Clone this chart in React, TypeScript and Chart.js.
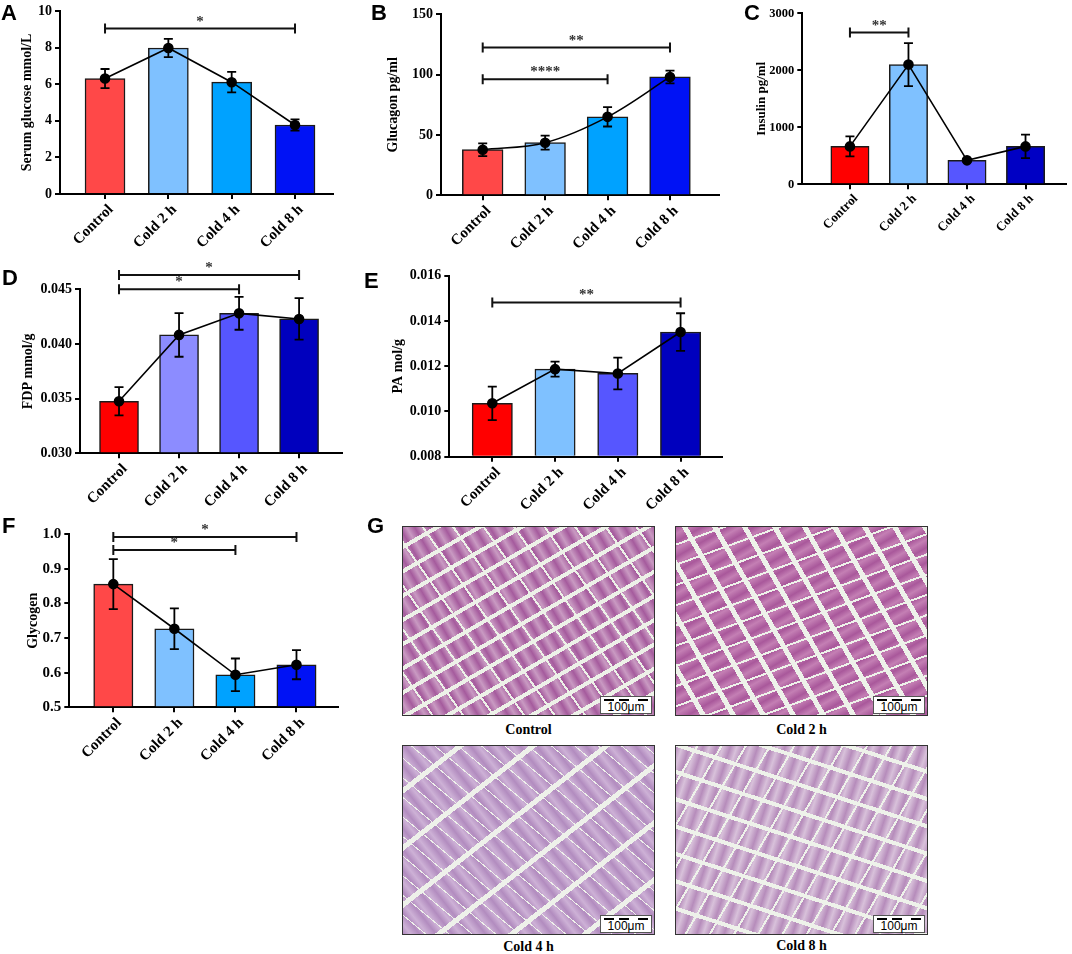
import React, { useEffect, useRef } from 'react';
import { Chart, registerables } from 'chart.js';

Chart.register(...registerables);

// ---------- data ----------
const categories = ['Control', 'Cold 2 h', 'Cold 4 h', 'Cold 8 h'];

const glucoseMean = [6.31, 7.98, 6.11, 3.77];
const glucoseErr = [0.52, 0.5, 0.56, 0.31];
const glucoseTicks = [0, 2, 4, 6, 8, 10];
const glucoseSig = [{ from: 0, to: 3, y: 9.04, label: '*' }];

const glucagonMean = [37.8, 43.6, 65.0, 98.1];
const glucagonErr = [5.3, 5.8, 8.0, 5.3];
const glucagonTicks = [0, 50, 100, 150];
const glucagonSig = [
  { from: 0, to: 3, y: 122.4, label: '**' },
  { from: 0, to: 2, y: 96.1, label: '****' },
];

const insulinMean = [665, 2100, 420, 665];
const insulinErr = [175, 377, 25, 207];
const insulinTicks = [0, 1000, 2000, 3000];
const insulinSig = [{ from: 0, to: 1, y: 2661, label: '**' }];

const fdpMean = [0.03476, 0.04083, 0.0428, 0.04229];
const fdpErr = [0.0013, 0.002, 0.0015, 0.0019];
const fdpTicks = [0.03, 0.035, 0.04, 0.045];
const fdpSig = [
  { from: 0, to: 3, y: 0.04631, label: '*' },
  { from: 0, to: 2, y: 0.045, label: '*' },
];

const paMean = [0.01036, 0.01187, 0.01168, 0.01351];
const paErr = [0.00074, 0.00033, 0.0007, 0.00083];
const paTicks = [0.008, 0.01, 0.012, 0.014, 0.016];
const paSig = [{ from: 0, to: 3, y: 0.01482, label: '**' }];

const glycogenMean = [0.856, 0.727, 0.594, 0.623];
const glycogenErr = [0.072, 0.059, 0.047, 0.042];
const glycogenTicks = [0.5, 0.6, 0.7, 0.8, 0.9, 1.0];
const glycogenSig = [
  { from: 0, to: 3, y: 0.9923, label: '*' },
  { from: 0, to: 2, y: 0.9547, label: '*' },
];

const colorsA = ['#FF4848', '#7FC1FF', '#00A2FF', '#0012F5'];
const colorsC = ['#FF0000', '#7FC1FF', '#5656FF', '#0000C4'];
const colorsD = ['#FF0000', '#8C8CFF', '#5656FF', '#0000BE'];
const colorsE = ['#FF0000', '#7FC1FF', '#5656FF', '#0000BE'];

const SERIF = "'Liberation Serif', 'Times New Roman', serif";
const SANS = "'Liberation Sans', Arial, sans-serif";

type Sig = { from: number; to: number; y: number; label: string };
type Panel = {
  key: string;
  canvas: { x: number; y: number; w: number; h: number };
  area: { l: number; t: number; r: number; b: number };
  titleX: number;
  title: string;
  titleSize: number;
  tickSize: number;
  xLabelSize: number;
  xMin: number;
  xMax: number;
  yMin: number;
  yMax: number;
  yTicks: number[];
  decimals: number;
  barWidth: number;
  tension: number;
  mean: number[];
  err: number[];
  sig: Sig[];
  colors: string[];
};

const panels: Panel[] = [
  {
    key: 'A', canvas: { x: 0, y: 0, w: 350, h: 262 }, area: { l: 60, t: 11, r: 333, b: 194 },
    titleX: 27, title: 'Serum glucose mmol/L', titleSize: 14, tickSize: 14, xLabelSize: 15,
    xMin: -0.711, xMax: 3.6, yMin: 0, yMax: 10, yTicks: glucoseTicks, decimals: 0,
    barWidth: 40, tension: 0, mean: glucoseMean, err: glucoseErr, sig: glucoseSig, colors: colorsA,
  },
  {
    key: 'B', canvas: { x: 360, y: 0, w: 375, h: 262 }, area: { l: 441, t: 14.3, r: 719, b: 195.3 },
    titleX: 393.3, title: 'Glucagon pg/ml', titleSize: 14, tickSize: 14, xLabelSize: 15,
    xMin: -0.668, xMax: 3.785, yMin: 0, yMax: 150, yTicks: glucagonTicks, decimals: 0,
    barWidth: 40.7, tension: 0.35, mean: glucagonMean, err: glucagonErr, sig: glucagonSig, colors: colorsA,
  },
  {
    key: 'C', canvas: { x: 735, y: 0, w: 337, h: 262 }, area: { l: 802.3, t: 13.3, r: 1070, b: 184.3 },
    titleX: 761.7, title: 'Insulin pg/ml', titleSize: 13, tickSize: 12.5, xLabelSize: 13,
    xMin: -0.814, xMax: 3.69, yMin: 0, yMax: 3000, yTicks: insulinTicks, decimals: 0,
    barWidth: 38.3, tension: 0, mean: insulinMean, err: insulinErr, sig: insulinSig, colors: colorsC,
  },
  {
    key: 'D', canvas: { x: 0, y: 262, w: 355, h: 253 }, area: { l: 80, t: 289.3, r: 341.7, b: 453.3 },
    titleX: 28, title: 'FDP mmol/g', titleSize: 14, tickSize: 14, xLabelSize: 15,
    xMin: -0.65, xMax: 3.71, yMin: 0.03, yMax: 0.045, yTicks: fdpTicks, decimals: 3,
    barWidth: 39, tension: 0, mean: fdpMean, err: fdpErr, sig: fdpSig, colors: colorsD,
  },
  {
    key: 'E', canvas: { x: 365, y: 262, w: 375, h: 253 }, area: { l: 449.3, t: 275.7, r: 722, b: 456.7 },
    titleX: 398, title: 'PA mol/g', titleSize: 14, tickSize: 14, xLabelSize: 15,
    xMin: -0.685, xMax: 3.66, yMin: 0.008, yMax: 0.016, yTicks: paTicks, decimals: 3,
    barWidth: 40.3, tension: 0, mean: paMean, err: paErr, sig: paSig, colors: colorsE,
  },
  {
    key: 'F', canvas: { x: 0, y: 515, w: 355, h: 245 }, area: { l: 69.3, t: 534.3, r: 338, b: 707.3 },
    titleX: 33.3, title: 'Glycogen', titleSize: 14, tickSize: 15, xLabelSize: 15,
    xMin: -0.721, xMax: 3.68, yMin: 0.5, yMax: 1.0, yTicks: glycogenTicks, decimals: 1,
    barWidth: 39.3, tension: 0, mean: glycogenMean, err: glycogenErr, sig: glycogenSig, colors: colorsA,
  },
];

// ---------- plugins ----------
function makeErrorBarPlugin(p: Panel) {
  return {
    id: 'errorBars' + p.key,
    afterDatasetDraw(chart: any, args: any) {
      if (args.index !== 1) return;
      const ctx = chart.ctx;
      const ys = chart.scales.y;
      const xs = chart.scales.x;
      ctx.save();
      ctx.strokeStyle = '#000';
      ctx.lineWidth = 1.8;
      p.mean.forEach((m, i) => {
        const x = xs.getPixelForValue(i);
        const t = ys.getPixelForValue(m + p.err[i]);
        const b = ys.getPixelForValue(m - p.err[i]);
        ctx.beginPath();
        ctx.moveTo(x, t); ctx.lineTo(x, b);
        ctx.moveTo(x - 4.5, t); ctx.lineTo(x + 4.5, t);
        ctx.moveTo(x - 4.5, b); ctx.lineTo(x + 4.5, b);
        ctx.stroke();
      });
      ctx.restore();
    },
  };
}

function makeSigPlugin(p: Panel) {
  return {
    id: 'sig' + p.key,
    afterDraw(chart: any) {
      const ctx = chart.ctx;
      const ys = chart.scales.y;
      const xs = chart.scales.x;
      ctx.save();
      p.sig.forEach((s) => {
        const x1 = xs.getPixelForValue(s.from);
        const x2 = xs.getPixelForValue(s.to);
        const y = ys.getPixelForValue(s.y);
        ctx.strokeStyle = '#111';
        ctx.lineWidth = 2;
        ctx.beginPath();
        ctx.moveTo(x1, y); ctx.lineTo(x2, y);
        ctx.moveTo(x1, y - 5); ctx.lineTo(x1, y + 5);
        ctx.moveTo(x2, y - 5); ctx.lineTo(x2, y + 5);
        ctx.stroke();
        ctx.fillStyle = '#333';
        ctx.font = `bold 15px ${SERIF}`;
        ctx.textAlign = 'center';
        ctx.textBaseline = 'alphabetic';
        ctx.fillText(s.label, (x1 + x2) / 2, y - 3);
      });
      ctx.restore();
    },
  };
}

function buildConfig(p: Panel): any {
  const pl = p.titleX - p.canvas.x - 0.6 * p.titleSize;
  const yw = p.area.l - p.canvas.x - pl;
  const pt = p.area.t - p.canvas.y;
  const pr = p.canvas.x + p.canvas.w - p.area.r;
  const xh = p.canvas.y + p.canvas.h - p.area.b;
  const pts = p.mean.map((v, i) => ({ x: i, y: v }));
  return {
    type: 'bar',
    data: {
      datasets: [
        {
          type: 'line', data: pts, borderColor: '#000', borderWidth: 1.6,
          pointRadius: 4.5, pointBackgroundColor: '#000', pointBorderColor: '#000',
          tension: p.tension, order: 0, clip: false, fill: false,
        },
        {
          type: 'bar', data: pts, backgroundColor: p.colors, borderColor: '#1a1a1a',
          borderWidth: 1.5, barThickness: p.barWidth, base: p.yMin, order: 1,
        },
      ],
    },
    options: {
      animation: false,
      responsive: false,
      maintainAspectRatio: false,
      layout: { padding: { left: pl, top: pt, right: pr, bottom: 0 } },
      plugins: { legend: { display: false }, tooltip: { enabled: false } },
      scales: {
        x: {
          type: 'linear', min: p.xMin, max: p.xMax, offset: false,
          afterBuildTicks: (s: any) => { s.ticks = categories.map((_, i) => ({ value: i })); },
          afterFit: (s: any) => { s.height = xh; s.paddingLeft = 0; s.paddingRight = 0; },
          ticks: {
            callback: (v: any) => categories[v as number] ?? '',
            minRotation: 45, maxRotation: 45, autoSkip: false, padding: 2, labelOffset: 6,
            color: '#000', font: { family: SERIF, size: p.xLabelSize, weight: 'bold' },
          },
          grid: { display: true, offset: false, drawOnChartArea: false, drawTicks: true, tickLength: 5, color: '#000', lineWidth: 2 },
          border: { display: true, color: '#000', width: 2 },
        },
        y: {
          type: 'linear', min: p.yMin, max: p.yMax,
          afterBuildTicks: (s: any) => { s.ticks = p.yTicks.map((v) => ({ value: v })); },
          afterFit: (s: any) => { s.width = yw; s.paddingTop = 0; s.paddingBottom = 0; },
          ticks: {
            callback: (v: any) => Number(v).toFixed(p.decimals),
            padding: 3, color: '#000', font: { family: SERIF, size: p.tickSize, weight: 'bold' },
          },
          grid: { display: true, drawOnChartArea: false, drawTicks: true, tickLength: 5, color: '#000', lineWidth: 2 },
          border: { display: true, color: '#000', width: 2 },
          title: {
            display: true, text: p.title, color: '#000', padding: 0,
            font: { family: SERIF, size: p.titleSize, weight: 'bold' },
          },
        },
      },
    },
    plugins: [makeErrorBarPlugin(p), makeSigPlugin(p)],
  };
}

function ChartPanel({ p }: { p: Panel }) {
  const ref = useRef<HTMLCanvasElement | null>(null);
  useEffect(() => {
    if (!ref.current) return;
    const chart = new Chart(ref.current, buildConfig(p));
    return () => chart.destroy();
  }, [p]);
  return (
    <canvas
      ref={ref}
      width={p.canvas.w}
      height={p.canvas.h}
      style={{ position: 'absolute', left: p.canvas.x, top: p.canvas.y, width: p.canvas.w, height: p.canvas.h }}
    />
  );
}

// ---------- micrographs (panel G) ----------
const micrographs = [
  { caption: 'Control', x: 402, y: 526, capY: 730, fiber: '#a55b9d', light: '#c99ac2', gap: '#edf1e8', a1: -30, a2: 55, s1: 17, s2: 23, g1: 4, g2: 2 },
  { caption: 'Cold 2 h', x: 675, y: 526, capY: 730, fiber: '#a9589b', light: '#c47fb4', gap: '#eef2ea', a1: 60, a2: -20, s1: 21, s2: 17, g1: 5, g2: 2 },
  { caption: 'Cold 4 h', x: 402, y: 745, capY: 947, fiber: '#b28cbf', light: '#cdb1d6', gap: '#eef1ea', a1: -38, a2: 40, s1: 40, s2: 14, g1: 5, g2: 1 },
  { caption: 'Cold 8 h', x: 675, y: 745, capY: 946, fiber: '#b68cbb', light: '#d8c1da', gap: '#eef2ea', a1: 18, a2: -60, s1: 22, s2: 19, g1: 4, g2: 2 },
];

function Micrograph({ m }: { m: (typeof micrographs)[number] }) {
  const w = 253;
  const h = 190;
  const bg = [
    `repeating-linear-gradient(${m.a1}deg, transparent 0px, transparent ${m.s1}px, ${m.gap} ${m.s1}px, ${m.gap} ${m.s1 + m.g1}px)`,
    `repeating-linear-gradient(${m.a2}deg, transparent 0px, transparent ${m.s2}px, ${m.gap} ${m.s2}px, ${m.gap} ${m.s2 + m.g2}px)`,
    `repeating-linear-gradient(${m.a1 + 90}deg, ${m.fiber} 0px, ${m.light} 6px, ${m.fiber} 13px)`,
  ].join(', ');
  return (
    <>
      <div
        style={{
          position: 'absolute', left: m.x, top: m.y, width: w, height: h, boxSizing: 'border-box',
          border: '1.5px solid #333', background: bg, overflow: 'hidden',
        }}
      >
        <div
          style={{
            position: 'absolute', right: 2, bottom: 1, width: 52, height: 18, background: '#fff',
            border: '1px solid #555', boxSizing: 'border-box',
          }}
        >
          {[3, 18, 37].map((l) => (
            <div key={l} style={{ position: 'absolute', left: l, top: 2, width: 10, height: 2, background: '#000' }} />
          ))}
          <div
            style={{
              position: 'absolute', left: 0, right: 0, top: 3, textAlign: 'center',
              font: `12px ${SANS}`, lineHeight: '14px', color: '#000',
            }}
          >
            100μm
          </div>
        </div>
      </div>
      <div
        style={{
          position: 'absolute', left: m.x + w / 2 - 60, width: 120, top: m.capY - 8, textAlign: 'center',
          font: `bold 14px ${SERIF}`, lineHeight: '16px', color: '#000',
        }}
      >
        {m.caption}
      </div>
    </>
  );
}

const letters = [
  { t: 'A', x: 1, y: 2 },
  { t: 'B', x: 371, y: 2 },
  { t: 'C', x: 744, y: 2 },
  { t: 'D', x: 2, y: 267 },
  { t: 'E', x: 364, y: 270 },
  { t: 'F', x: 2, y: 515 },
  { t: 'G', x: 367, y: 515 },
];

export default function App() {
  return (
    <div style={{ position: 'absolute', left: 0, top: 0, width: 1072, height: 954, background: '#fff', overflow: 'hidden' }}>
      {panels.map((p) => (
        <ChartPanel key={p.key} p={p} />
      ))}
      {micrographs.map((m) => (
        <Micrograph key={m.caption} m={m} />
      ))}
      {letters.map((l) => (
        <div
          key={l.t}
          style={{
            position: 'absolute', left: l.x, top: l.y, font: `bold 22px ${SANS}`, lineHeight: '22px', color: '#000',
          }}
        >
          {l.t}
        </div>
      ))}
    </div>
  );
}
